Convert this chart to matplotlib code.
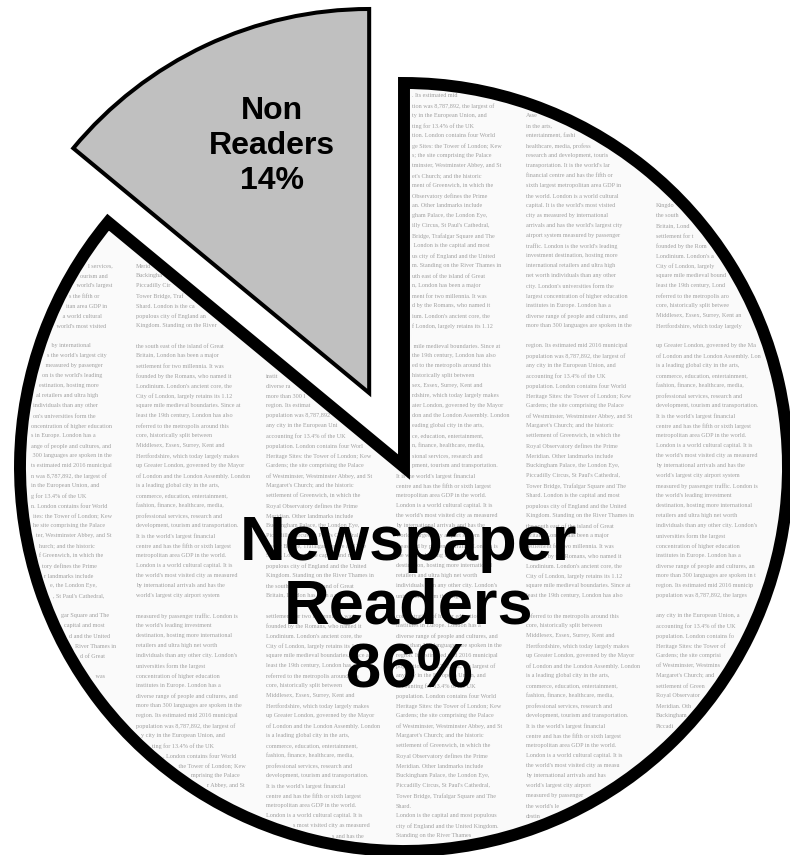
import math
import textwrap
import matplotlib.pyplot as plt

labels = ['Non\nReaders\n14%', 'Newspaper\nReaders\n86%']
shares = [14, 86]
colors = ['#c0c0c0', '#fafafa']
explode = [0.213, 0]

filler = (
    "London is the capital and most populous city of England and the United Kingdom. "
    "Standing on the River Thames in the south east of the island of Great Britain, "
    "London has been a major settlement for two millennia. It was founded by the Romans, "
    "who named it Londinium. London's ancient core, the City of London, largely retains "
    "its 1.12 square mile medieval boundaries. Since at least the 19th century, London has "
    "also referred to the metropolis around this core, historically split between Middlesex, "
    "Essex, Surrey, Kent and Hertfordshire, which today largely makes up Greater London, "
    "governed by the Mayor of London and the London Assembly. London is a leading global "
    "city in the arts, commerce, education, entertainment, fashion, finance, healthcare, "
    "media, professional services, research and development, tourism and transportation. "
    "It is the world's largest financial centre and has the fifth or sixth largest "
    "metropolitan area GDP in the world. London is a world cultural capital. It is the "
    "world's most visited city as measured by international arrivals and has the world's "
    "largest city airport system measured by passenger traffic. London is the world's "
    "leading investment destination, hosting more international retailers and ultra high "
    "net worth individuals than any other city. London's universities form the largest "
    "concentration of higher education institutes in Europe. London has a diverse range of "
    "people and cultures, and more than 300 languages are spoken in the region. Its "
    "estimated mid 2016 municipal population was 8,787,892, the largest of any city in the "
    "European Union, and accounting for 13.4% of the UK population. London contains four "
    "World Heritage Sites: the Tower of London; Kew Gardens; the site comprising the Palace "
    "of Westminster, Westminster Abbey, and St Margaret's Church; and the historic "
    "settlement of Greenwich, in which the Royal Observatory defines the Prime Meridian. "
    "Other landmarks include Buckingham Palace, the London Eye, Piccadilly Circus, St "
    "Paul's Cathedral, Tower Bridge, Trafalgar Square and The Shard. "
)
wrapped = textwrap.wrap(filler * 3, 41)

fig = plt.figure(figsize=(7.9, 8.55), dpi=100)
ax = fig.add_axes([0, 0, 1, 1])

# pie centre sits at pixel (404, 467), radius 384 px
px, cx, cy = 384.0, 404.0, 467.0

wedges, _ = ax.pie(shares, explode=explode, startangle=90, colors=colors,
                   wedgeprops=dict(linewidth=0))
outlines, _ = ax.pie(shares, explode=explode, startangle=90,
                     wedgeprops=dict(fill=False, edgecolor='black'))
outlines[0].set_linewidth(2.9)
outlines[1].set_linewidth(8.6)
for w in outlines:
    w.set_zorder(5)

# newspaper texture: small text lines cut to fit inside the readers slice
r_in = px - 8
edge = math.radians(90 + 360 * shares[0] / sum(shares))
cot = math.cos(edge) / math.sin(edge)
char_w = 2.75
pos = 0
for i in range(6):
    x0 = 6 + i * 130 - cx
    for k in range(79):
        yc = cy - (76 + k * 10)
        if k % 27 == 26:
            continue
        line = wrapped[pos % len(wrapped)]
        pos += 1
        if abs(yc) >= r_in:
            continue
        w = math.sqrt(r_in ** 2 - yc ** 2)
        if yc > 0:
            spans = [(-w, yc * cot - 10), (7, w)]
        else:
            spans = [(-w, w)]
        for a, b in spans:
            lo = max(a, x0)
            hi = min(b, x0 + len(line) * char_w)
            if hi - lo < 4 * char_w:
                continue
            i0 = math.ceil((lo - x0) / char_w)
            i1 = math.floor((hi - x0) / char_w)
            ax.text((x0 + i0 * char_w) / px, yc / px, line[i0:i1],
                    fontsize=4.4, family='Liberation Serif', color='#a0a0a0',
                    ha='left', va='center', zorder=2)
    pos += 7

ax.text(-0.344, 0.836, labels[0], ha='center', va='center', fontsize=23,
        fontweight='bold', family='Liberation Sans', linespacing=1.2, zorder=6)
ax.text(0.013, -0.365, labels[1], ha='center', va='center', fontsize=45.5,
        fontweight='bold', family='Liberation Sans', linespacing=1.1, zorder=6)

ax.set_xlim(-cx / px, (790 - cx) / px)
ax.set_ylim(-(855 - cy) / px, cy / px)
ax.set_aspect('auto')
ax.axis('off')

fig.savefig('out.png', dpi=100)
